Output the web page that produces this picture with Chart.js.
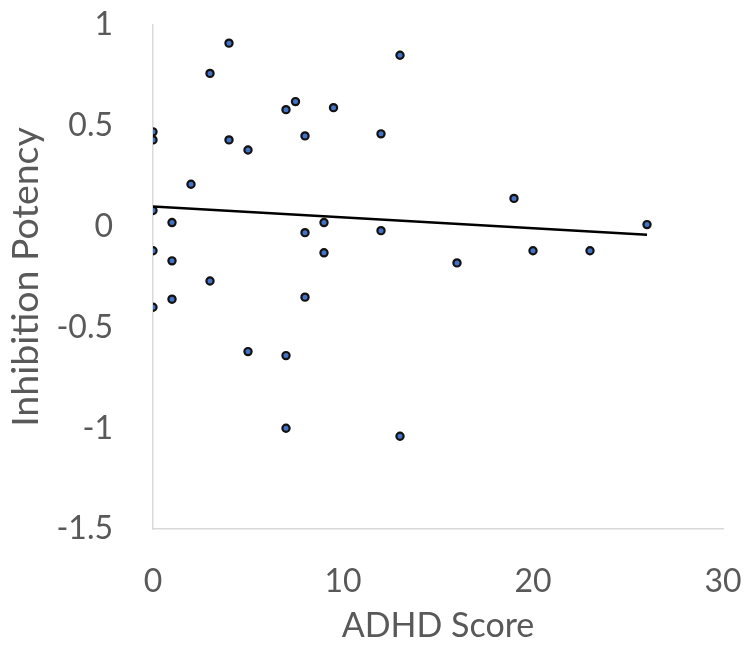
<!DOCTYPE html>
<html>
<head>
<meta charset="utf-8">
<script src="https://cdn.jsdelivr.net/npm/chart.js@4.4.0/dist/chart.umd.min.js"></script>
<style>
    html, body { margin: 0; padding: 0; background: #ffffff; }
    #grafico-wrap { width: 746px; height: 646px; }
</style>
</head>
<body>
<div id="grafico-wrap"><canvas id="grafico"></canvas></div>
<script>
// puntos
const adhdScore = [0, 0, 0, 0, 0, 1, 1, 1, 2, 3, 3, 4, 4, 5, 5, 7, 7.5, 7, 7, 8, 8, 8, 9, 9, 9.5, 12, 12, 13, 13, 16, 19, 20, 23, 26];
const inhibitionPotency = [0.47, 0.43, 0.08, -0.12, -0.40, 0.02, -0.17, -0.36, 0.21, 0.76, -0.27, 0.91, 0.43, 0.38, -0.62, 0.58, 0.62, -0.64, -1.0, 0.45, -0.03, -0.35, 0.02, -0.13, 0.59, 0.46, -0.02, 0.85, -1.04, -0.18, 0.14, -0.12, -0.12, 0.01];

// linea de tendencia (extremos)
const trendX = [0, 26];
const trendY = [0.10, -0.04];

const xTicks = [0, 10, 20, 30];
const yTicks = [-1.5, -1, -0.5, 0, 0.5, 1];

const gris = '#595959';
const fuente = 'Lato, "Open Sans", sans-serif';

const puntos = [];
for (let i = 0; i < adhdScore.length; i++) {
    puntos.push({x: adhdScore[i], y: inhibitionPotency[i]});
}
const tendencia = [];
for (let i = 0; i < trendX.length; i++) {
    tendencia.push({x: trendX[i], y: trendY[i]});
}

const ctx = document.getElementById('grafico');
const myChart = new Chart(ctx, {
    type: 'scatter',
    data: {
        datasets: [{
            type: 'line',
            label: 'Trend',
            data: tendencia,
            borderColor: '#000000',
            borderWidth: 2.5,
            pointRadius: 0,
            fill: false
        }, {
            label: 'Inhibition Potency',
            data: puntos,
            backgroundColor: '#4472c4',
            borderColor: '#111111',
            borderWidth: 2.2,
            pointRadius: 3.6
        }]
    },
    options: {
        responsive: true,
        maintainAspectRatio: false,
        animation: false,
        layout: {
            padding: {top: 25, right: 23, left: 0, bottom: 0}
        },
        plugins: {
            legend: {display: false},
            tooltip: {enabled: false}
        },
        scales: {
            x: {
                type: 'linear',
                min: xTicks[0],
                max: xTicks[xTicks.length - 1],
                afterBuildTicks: function (axis) {
                    axis.ticks = xTicks.map(v => ({value: v}));
                },
                afterFit: function (axis) {
                    axis.height = 117;
                    axis.paddingLeft = 0;
                    axis.paddingRight = 0;
                },
                grid: {display: false, drawTicks: false},
                border: {display: true, color: '#d9d9d9', width: 1.5},
                ticks: {
                    color: gris,
                    padding: 33,
                    maxRotation: 0,
                    font: {family: fuente, size: 32},
                    callback: v => String(v)
                },
                title: {
                    display: true,
                    text: 'ADHD Score',
                    color: gris,
                    padding: {top: 0, bottom: 0},
                    font: {family: fuente, size: 34}
                }
            },
            y: {
                type: 'linear',
                min: yTicks[0],
                max: yTicks[yTicks.length - 1],
                afterBuildTicks: function (axis) {
                    axis.ticks = yTicks.map(v => ({value: v}));
                },
                afterFit: function (axis) {
                    axis.width = 153;
                    axis.paddingTop = 0;
                    axis.paddingBottom = 0;
                },
                grid: {display: false, drawTicks: false},
                border: {display: true, color: '#d9d9d9', width: 1.5},
                ticks: {
                    color: gris,
                    padding: 40,
                    font: {family: fuente, size: 32},
                    callback: v => String(v)
                },
                title: {
                    display: true,
                    text: 'Inhibition Potency',
                    color: gris,
                    padding: {top: 3, bottom: 0},
                    font: {family: fuente, size: 37.5}
                }
            }
        }
    }
});
</script>
</body>
</html>
